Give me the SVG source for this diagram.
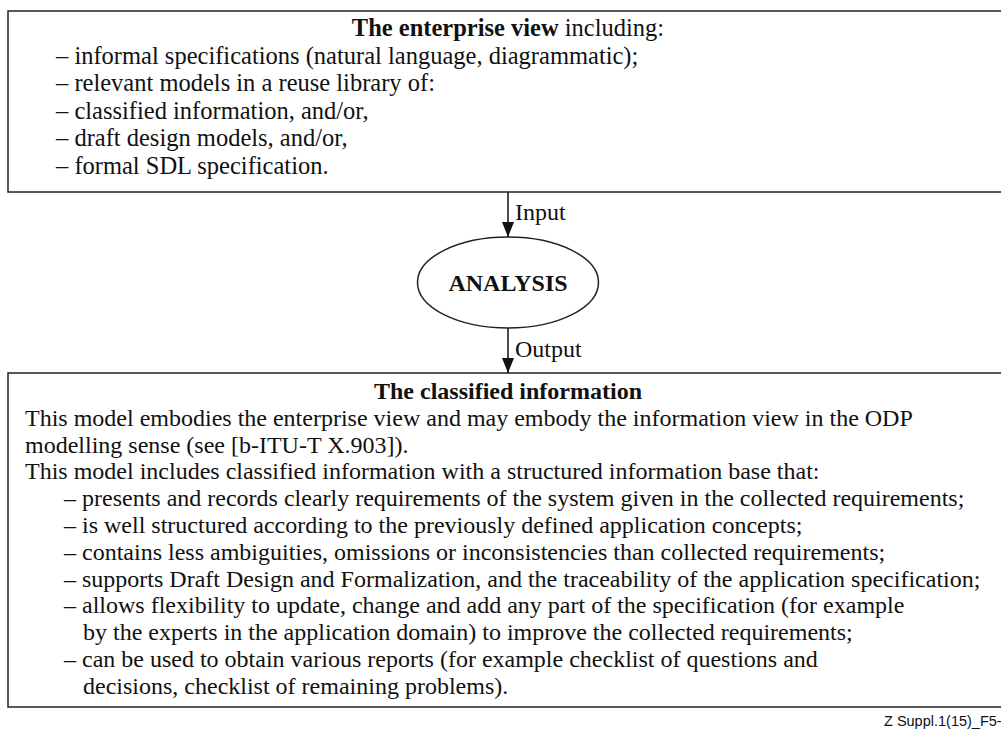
<svg xmlns="http://www.w3.org/2000/svg" width="1001" height="731" viewBox="0 0 1001 731">
  <style>
    .box { fill: #ffffff; stroke: #222222; stroke-width: 1.5; }
    .txt { font-family: "Liberation Serif", "Times New Roman", serif; font-size: 24px; fill: #111111; }
    .big { font-size: 24.5px; }
    .b { font-weight: bold; }
    .mid { text-anchor: middle; }
    .conn { stroke: #111111; stroke-width: 1.5; fill: none; marker-end: url(#arrow); }
    .cap { font-family: "Liberation Sans", Arial, sans-serif; font-size: 14.5px; fill: #111111; }
  </style>
  <defs>
    <!-- filled arrowhead, drawn along +x so it follows the line direction -->
    <marker id="arrow" markerWidth="15" markerHeight="12" refX="15" refY="6" orient="auto" markerUnits="userSpaceOnUse" viewBox="0 0 15 12">
      <path d="M0,0 L15,6 L0,12 Z" fill="#111111"/>
    </marker>
  </defs>
  <rect width="1001" height="731" fill="#ffffff"/>

  <g id="enterprise-view">
    <rect class="box" x="8" y="11" width="1010" height="181"/>
    <text class="txt big mid" x="508" y="36"><tspan class="b">The enterprise view</tspan> including:</text>
    <text class="txt big" x="56" y="63.5">– informal specifications (natural language, diagrammatic);</text>
    <text class="txt big" x="56" y="91">– relevant models in a reuse library of:</text>
    <text class="txt big" x="56" y="118.5">– classified information, and/or,</text>
    <text class="txt big" x="56" y="146">– draft design models, and/or,</text>
    <text class="txt big" x="56" y="173.5">– formal SDL specification.</text>
  </g>

  <g id="analysis">
    <ellipse class="box" cx="508" cy="282.5" rx="90.5" ry="45.5"/>
    <text class="txt b mid" x="508" y="291">ANALYSIS</text>
  </g>

  <g id="classified-information">
    <rect class="box" x="8" y="373" width="1010" height="334"/>
    <text class="txt b mid" x="508" y="399">The classified information</text>
    <text class="txt" x="25" y="425.8">This model embodies the enterprise view and may embody the information view in the ODP</text>
    <text class="txt" x="25" y="452.6">modelling sense (see [b-ITU-T X.903]).</text>
    <text class="txt" x="25" y="479.4">This model includes classified information with a structured information base that:</text>
    <text class="txt" x="64" y="506.2">– presents and records clearly requirements of the system given in the collected requirements;</text>
    <text class="txt" x="64" y="533">– is well structured according to the previously defined application concepts;</text>
    <text class="txt" x="64" y="559.8">– contains less ambiguities, omissions or inconsistencies than collected requirements;</text>
    <text class="txt" x="64" y="586.6">– supports Draft Design and Formalization, and the traceability of the application specification;</text>
    <text class="txt" x="64" y="613.4">– allows flexibility to update, change and add any part of the specification (for example</text>
    <text class="txt" x="83" y="640.2">by the experts in the application domain) to improve the collected requirements;</text>
    <text class="txt" x="64" y="667">– can be used to obtain various reports (for example checklist of questions and</text>
    <text class="txt" x="83" y="693.8">decisions, checklist of remaining problems).</text>
  </g>

  <g id="connectors">
    <line class="conn" x1="508" y1="192" x2="508" y2="237"/>
    <text class="txt" x="515" y="220">Input</text>
    <line class="conn" x1="508" y1="328" x2="508" y2="373"/>
    <text class="txt" x="515" y="357">Output</text>
  </g>

  <text class="cap" x="884" y="726">Z Suppl.1(15)_F5-</text>
</svg>
